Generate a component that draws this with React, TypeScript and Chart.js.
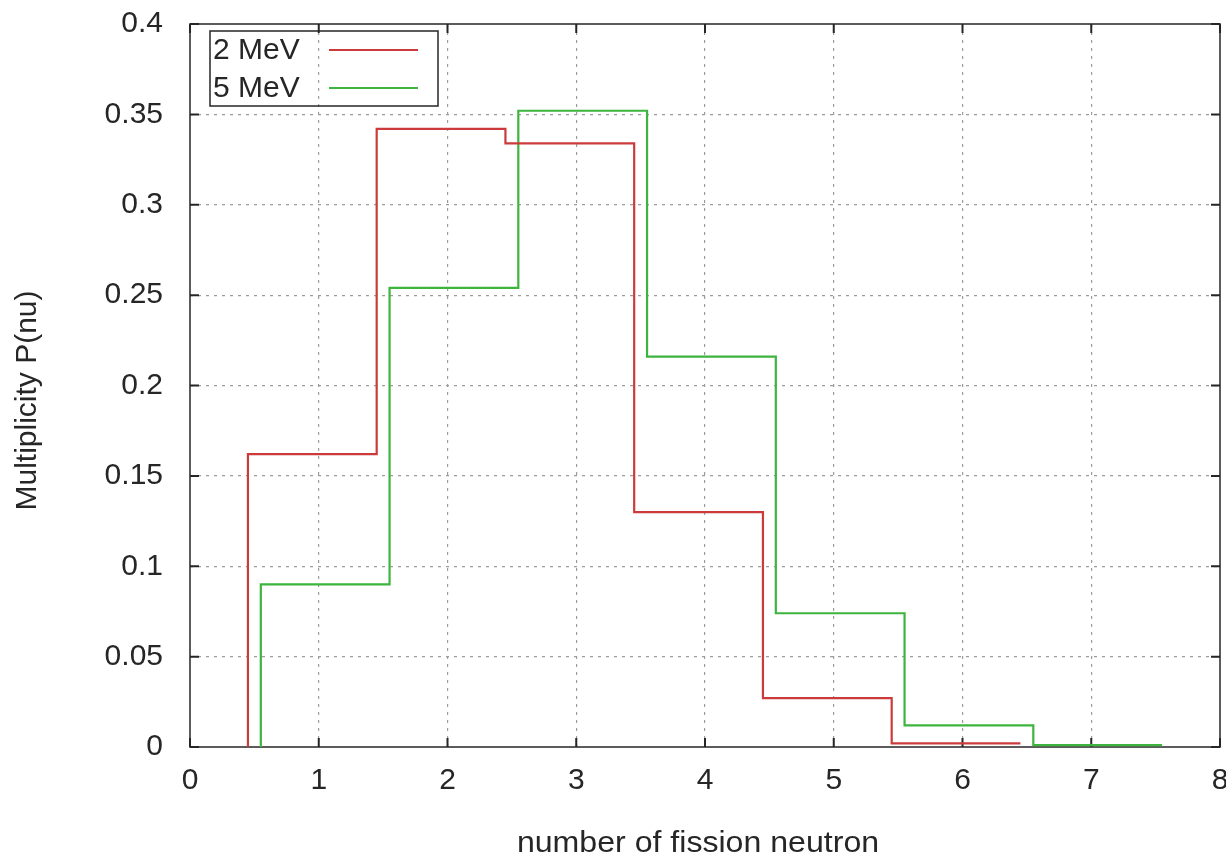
import React, { useEffect, useRef } from "react";
import { Chart, registerables } from "chart.js";

Chart.register(...registerables);

// Neutron multiplicity nu (bin centres)
const nuValues = [1, 2, 3, 4, 5, 6, 7];
// P(nu) for the two incident energies
const p2MeV = [0.162, 0.342, 0.334, 0.13, 0.027, 0.002];
const p5MeV = [0.09, 0.254, 0.352, 0.216, 0.074, 0.012, 0.001];
const seriesNames = ["2 MeV", "5 MeV"];
const seriesColors = ["#cc3b3b", "#3db43d"];
// small sideways shift so the two histograms do not overlap
const seriesShift = [-0.05, 0.05];

const xTickValues = [0, 1, 2, 3, 4, 5, 6, 7, 8];
const yTickValues = [0, 0.05, 0.1, 0.15, 0.2, 0.25, 0.3, 0.35, 0.4];
const xTitle = "number of fission neutron";
const yTitle = "Multiplicity P(nu)";

const FONT = "'Liberation Sans', Arial, Helvetica, sans-serif";
const TEXT_COLOR = "#262626";
const GRID_COLOR = "#9c9c9c";

// Outline of a histogram: rise from zero at the first bin edge, then one
// horizontal step per bin.
function histogramSteps(values: number[], shift: number) {
  const pts = [{ x: nuValues[0] - 0.5 + shift, y: 0 }];
  values.forEach((v, i) => pts.push({ x: nuValues[i] - 0.5 + shift, y: v }));
  const last = values.length - 1;
  pts.push({ x: nuValues[last] + 0.5 + shift, y: values[last] });
  return pts;
}

const fmt = (v: number) => String(+(+v).toFixed(2));

// Box with inward tick marks on all four sides, key box and axis titles.
const gnuplotFrame = {
  id: "gnuplotFrame",
  beforeDatasetsDraw(chart: any) {
    const { ctx, chartArea: a, scales } = chart;
    ctx.save();
    ctx.strokeStyle = TEXT_COLOR;
    ctx.lineWidth = 1.5;
    ctx.strokeRect(a.left, a.top, a.right - a.left, a.bottom - a.top);
    ctx.lineWidth = 2;
    ctx.beginPath();
    const tick = 9;
    for (const v of xTickValues) {
      const x = scales.x.getPixelForValue(v);
      ctx.moveTo(x, a.bottom);
      ctx.lineTo(x, a.bottom - tick);
      ctx.moveTo(x, a.top);
      ctx.lineTo(x, a.top + tick);
    }
    for (const v of yTickValues) {
      const y = scales.y.getPixelForValue(v);
      ctx.moveTo(a.left, y);
      ctx.lineTo(a.left + tick, y);
      ctx.moveTo(a.right, y);
      ctx.lineTo(a.right - tick, y);
    }
    ctx.stroke();
    ctx.restore();
  },
  afterDraw(chart: any) {
    const { ctx, chartArea: a } = chart;
    ctx.save();
    // key
    const bx = a.left + 20;
    const by = a.top + 7;
    const bw = 228;
    const bh = 75;
    ctx.strokeStyle = TEXT_COLOR;
    ctx.lineWidth = 1.5;
    ctx.strokeRect(bx, by, bw, bh);
    ctx.font = `30px ${FONT}`;
    ctx.fillStyle = TEXT_COLOR;
    ctx.textAlign = "left";
    ctx.textBaseline = "alphabetic";
    seriesNames.forEach((name, i) => {
      const rowY = by + 17 + i * 38;
      ctx.fillText(name, bx + 3, rowY + 11);
      ctx.strokeStyle = seriesColors[i];
      ctx.lineWidth = 2;
      ctx.beginPath();
      ctx.moveTo(bx + 119, rowY + 2);
      ctx.lineTo(bx + 208, rowY + 2);
      ctx.stroke();
    });
    // x axis title, slightly widened
    ctx.fillStyle = TEXT_COLOR;
    ctx.textAlign = "center";
    ctx.save();
    ctx.translate((a.left + a.right) / 2 - 7, 852);
    ctx.scale(1.07, 1);
    ctx.fillText(xTitle, 0, 0);
    ctx.restore();
    // y axis title
    ctx.translate(36, (a.top + a.bottom) / 2 + 15);
    ctx.rotate(-Math.PI / 2);
    ctx.fillText(yTitle, 0, 0);
    ctx.restore();
  },
};

export default function App() {
  const canvasRef = useRef<HTMLCanvasElement | null>(null);

  useEffect(() => {
    if (!canvasRef.current) return;
    const chart = new Chart(canvasRef.current, {
      type: "line",
      data: {
        datasets: [
          {
            label: seriesNames[0],
            data: histogramSteps(p2MeV, seriesShift[0]),
            borderColor: seriesColors[0],
            borderWidth: 2.2,
            stepped: "before",
            pointRadius: 0,
            fill: false,
          },
          {
            label: seriesNames[1],
            data: histogramSteps(p5MeV, seriesShift[1]),
            borderColor: seriesColors[1],
            borderWidth: 2.2,
            stepped: "before",
            pointRadius: 0,
            fill: false,
          },
        ],
      },
      options: {
        responsive: false,
        animation: false,
        events: [],
        layout: { padding: { top: 24, right: 6, left: 0, bottom: 0 } },
        plugins: {
          legend: { display: false },
          tooltip: { enabled: false },
        },
        scales: {
          x: {
            type: "linear",
            min: 0,
            max: 8,
            afterBuildTicks: (s: any) => {
              s.ticks = xTickValues.map((v) => ({ value: v }));
            },
            afterFit: (s: any) => {
              s.height = 108;
              s.paddingLeft = 0;
              s.paddingRight = 0;
            },
            ticks: {
              font: { family: FONT, size: 30 },
              color: TEXT_COLOR,
              padding: 16,
              maxRotation: 0,
              autoSkip: false,
              callback: (v: any) => fmt(v),
            },
            grid: {
              drawTicks: false,
              lineWidth: 1.2,
              color: (c: any) =>
                c.tick && (c.tick.value === 0 || c.tick.value === 8)
                  ? "rgba(0,0,0,0)"
                  : GRID_COLOR,
            },
            border: { display: false, dash: [3, 5] },
          },
          y: {
            type: "linear",
            min: 0,
            max: 0.4,
            afterBuildTicks: (s: any) => {
              s.ticks = yTickValues.map((v) => ({ value: v }));
            },
            afterFit: (s: any) => {
              s.width = 190;
              s.paddingTop = 0;
              s.paddingBottom = 0;
            },
            ticks: {
              font: { family: FONT, size: 30 },
              color: TEXT_COLOR,
              padding: 27,
              autoSkip: false,
              callback: (v: any) => fmt(v),
            },
            grid: {
              drawTicks: false,
              lineWidth: 1.2,
              color: (c: any) =>
                c.tick && (c.tick.value === 0 || c.tick.value === 0.4)
                  ? "rgba(0,0,0,0)"
                  : GRID_COLOR,
            },
            border: { display: false, dash: [3, 5] },
          },
        },
      },
      plugins: [gnuplotFrame],
    });
    return () => chart.destroy();
  }, []);

  return (
    <div
      style={{
        position: "fixed",
        left: 0,
        top: 0,
        width: 1226,
        height: 855,
        background: "#fff",
      }}
    >
      <canvas ref={canvasRef} width={1226} height={855} />
    </div>
  );
}
